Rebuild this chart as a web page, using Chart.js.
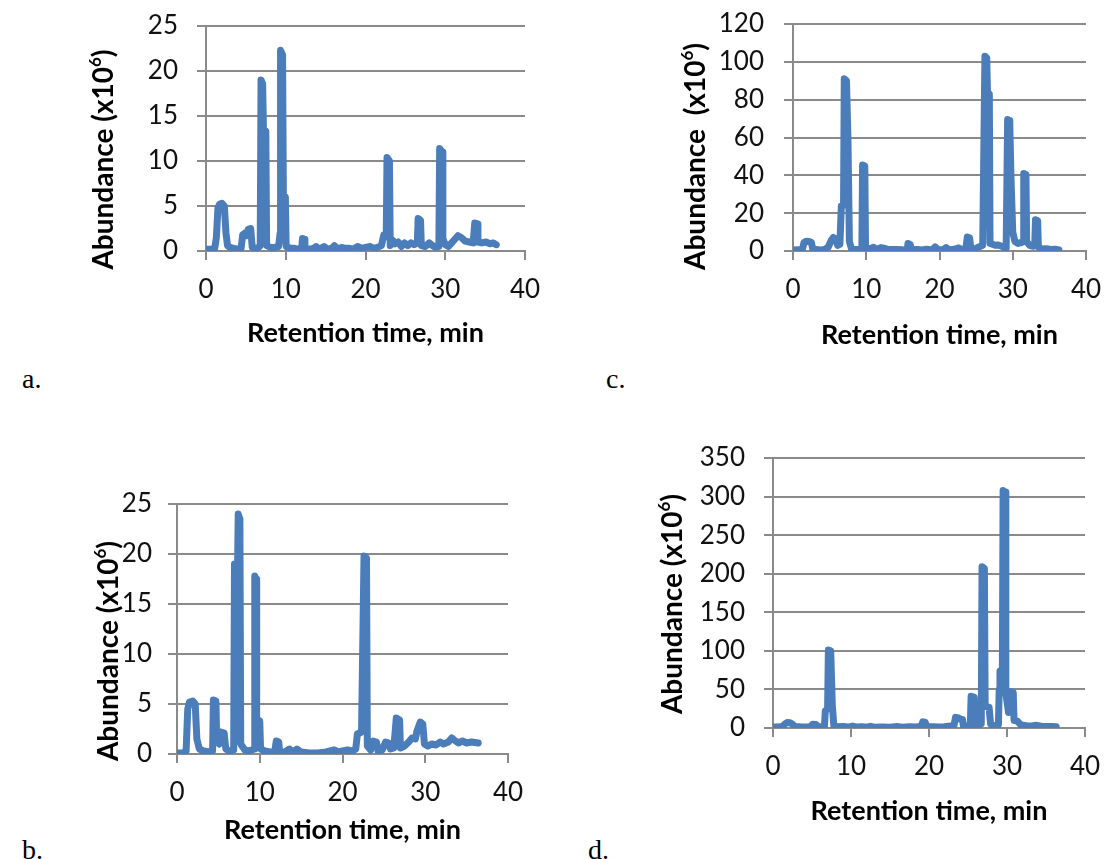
<!DOCTYPE html>
<html>
<head>
<meta charset="utf-8">
<script src="https://cdn.jsdelivr.net/npm/chart.js@4.4.0/dist/chart.umd.min.js"></script>
<style>
  body { margin: 0; background: #fff; width: 1106px; height: 859px; position: relative; overflow: hidden; }
  canvas { position: absolute; }
  .tag { position: absolute; font-family: "Liberation Serif", "DejaVu Serif", serif; font-size: 28px; line-height: 1; color: #000; }
</style>
</head>
<body>
<canvas id="chart-a" width="470" height="360" style="left:80px;top:0"></canvas>
<canvas id="chart-c" width="446" height="360" style="left:660px;top:0"></canvas>
<canvas id="chart-b" width="460" height="389" style="left:80px;top:470px"></canvas>
<canvas id="chart-d" width="466" height="419" style="left:640px;top:440px"></canvas>
<div class="tag" style="left:22px;top:365px">a.</div>
<div class="tag" style="left:606px;top:365px">c.</div>
<div class="tag" style="left:22px;top:836px">b.</div>
<div class="tag" style="left:588px;top:836px">d.</div>
<script>
// retention time (min) and abundance (x10^6)
const aTime = [
  0.0, 0.6, 1.1, 1.3, 1.5, 1.7, 2.0, 2.3, 2.5, 2.7, 3.0, 3.5, 4.0, 4.4, 4.6, 4.9, 5.1, 5.3, 5.6, 5.8,
  6.2, 6.6, 6.8, 6.9, 7.1, 7.2, 7.5, 7.6, 8.1, 8.6, 9.1, 9.3, 9.35, 9.6, 9.7, 9.95, 10.05, 10.6, 11.0, 11.6,
  12.0, 12.1, 12.3, 12.4, 13.0, 13.5, 13.8, 14.2, 14.8, 15.2, 15.8, 16.1, 16.5, 17.0, 17.5, 18.0, 18.5, 19.0, 19.5, 20.0,
  20.6, 21.0, 21.5, 22.0, 22.3, 22.6, 22.7, 23.0, 23.1, 23.4, 23.7, 24.1, 24.5, 24.9, 25.3, 25.7, 26.1, 26.5, 26.6, 26.9,
  27.0, 27.5, 28.0, 28.4, 28.8, 29.2, 29.3, 29.6, 29.7, 30.0, 30.4, 30.8, 31.2, 31.6, 32.0, 32.5, 33.0, 33.5, 33.7, 34.0,
  34.1, 34.6, 35.1, 35.6, 36.0, 36.4
];
const aAbund = [
  0.2, 0.2, 0.3, 1.5, 4.8, 5.2, 5.3, 5.0, 2.0, 0.6, 0.4, 0.3, 0.2, 0.3, 1.8, 2.0, 1.7, 2.4, 2.5, 0.4,
  0.3, 0.4, 0.6, 19.0, 18.6, 13.6, 13.3, 0.6, 0.4, 0.4, 0.5, 2.0, 22.3, 21.8, 6.3, 6.0, 0.5, 0.3, 0.3, 0.2,
  0.3, 1.4, 1.3, 0.3, 0.2, 0.3, 0.5, 0.2, 0.5, 0.2, 0.3, 0.6, 0.2, 0.4, 0.3, 0.3, 0.2, 0.5, 0.3, 0.4,
  0.5, 0.3, 0.4, 0.6, 1.8, 1.6, 10.4, 10.0, 0.6, 1.2, 0.8, 1.0, 0.5, 0.9, 0.6, 0.9, 0.7, 0.9, 3.6, 3.4,
  0.6, 0.5, 0.9, 0.6, 0.4, 0.5, 11.4, 11.0, 1.4, 0.7, 0.5, 0.9, 1.3, 1.7, 1.5, 1.1, 1.0, 0.9, 3.1, 3.0,
  1.0, 0.9, 1.0, 0.8, 0.9, 0.7
];

const cTime = [
  0.0, 0.8, 1.3, 1.5, 1.8, 2.2, 2.5, 2.7, 3.2, 3.8, 4.3, 4.8, 5.2, 5.5, 5.8, 6.1, 6.4, 6.6, 6.9, 7.0,
  7.3, 7.5, 7.7, 8.0, 8.5, 9.0, 9.4, 9.5, 9.8, 9.9, 10.4, 11.0, 11.4, 12.0, 12.4, 13.0, 14.0, 15.0, 15.6, 15.7,
  16.0, 16.2, 17.0, 17.6, 18.2, 19.0, 19.4, 19.8, 20.5, 20.9, 21.3, 22.0, 22.6, 23.0, 23.6, 23.8, 24.1, 24.3, 24.8, 25.3,
  25.9, 26.2, 26.45, 26.55, 26.8, 26.9, 27.3, 27.6, 28.0, 28.5, 29.1, 29.3, 29.5, 29.6, 29.75, 30.0, 30.3, 30.7, 31.2, 31.4,
  31.5, 31.8, 31.9, 32.3, 32.8, 33.0, 33.1, 33.4, 33.5, 34.0, 34.6, 35.2, 35.8, 36.3
];
const cAbund = [
  0.5, 0.6, 1.0, 4.5, 5.2, 5.0, 4.6, 1.0, 0.8, 0.6, 0.8, 2.0, 5.5, 7.2, 6.5, 3.0, 3.5, 23.8, 24.0, 91.0,
  90.0, 60.0, 5.0, 1.0, 0.8, 0.8, 1.0, 45.5, 45.0, 2.0, 1.0, 2.0, 0.8, 1.8, 1.5, 0.8, 0.8, 0.6, 0.8, 4.0,
  3.5, 0.6, 0.8, 0.6, 0.9, 0.6, 2.2, 0.8, 0.6, 1.8, 0.6, 0.9, 1.6, 0.8, 1.2, 7.4, 7.0, 1.0, 1.0, 2.0,
  3.0, 103.0, 102.0, 84.0, 83.0, 4.0, 3.5, 3.0, 3.2, 2.5, 1.5, 69.5, 69.0, 66.0, 40.0, 10.0, 5.0, 4.0, 4.5, 5.0,
  41.0, 40.5, 5.0, 3.0, 2.5, 3.0, 16.5, 16.0, 2.0, 1.0, 1.2, 0.8, 0.9, 0.6
];

const bTime = [
  0.0, 0.7, 1.1, 1.3, 1.5, 1.9, 2.2, 2.4, 2.7, 3.2, 3.8, 4.3, 4.4, 4.7, 4.8, 5.1, 5.3, 5.7, 5.9, 6.3,
  6.85, 6.95, 7.15, 7.25, 7.4, 7.6, 7.7, 8.2, 8.7, 9.35, 9.4, 9.55, 9.6, 9.65, 10.0, 10.1, 10.6, 11.2, 11.8, 12.0,
  12.3, 12.4, 13.0, 13.6, 14.0, 14.5, 15.0, 16.0, 17.0, 18.0, 19.0, 19.5, 20.0, 20.6, 21.2, 21.6, 21.8, 22.3, 22.6, 22.9,
  23.0, 23.4, 23.7, 24.1, 24.3, 24.8, 25.2, 25.6, 25.8, 26.2, 26.5, 26.9, 27.0, 27.5, 28.0, 28.4, 28.8, 29.0, 29.4, 29.7,
  29.9, 30.3, 30.8, 31.3, 31.8, 32.2, 32.8, 33.2, 33.5, 34.0, 34.5, 35.0, 35.6, 36.4
];
const bAbund = [
  0.1, 0.1, 0.3, 4.5, 5.2, 5.3, 5.0, 1.5, 0.5, 0.3, 0.2, 0.3, 5.4, 5.3, 1.5, 1.0, 2.2, 2.1, 0.5, 0.3,
  0.4, 19.0, 18.8, 14.0, 24.0, 23.5, 1.0, 0.4, 0.3, 0.5, 17.8, 17.5, 10.0, 3.5, 3.3, 0.5, 0.3, 0.2, 0.2, 1.3,
  1.2, 0.2, 0.2, 0.5, 0.2, 0.5, 0.2, 0.1, 0.1, 0.2, 0.4, 0.2, 0.3, 0.4, 0.3, 0.5, 2.0, 2.2, 19.8, 19.6,
  0.8, 0.4, 1.3, 1.2, 0.3, 0.4, 1.2, 1.1, 0.5, 0.6, 3.6, 3.4, 0.6, 0.8, 1.2, 1.6, 1.5, 2.3, 3.2, 3.0,
  1.0, 0.8, 1.0, 0.9, 1.2, 1.0, 1.2, 1.6, 1.4, 1.1, 1.3, 1.1, 1.2, 1.1
];

const dTime = [
  0.0, 0.8, 1.2, 1.5, 1.8, 2.2, 2.5, 2.8, 3.5, 4.2, 4.8, 5.1, 5.5, 5.8, 6.3, 6.6, 6.7, 7.0, 7.1, 7.4,
  7.6, 7.8, 8.3, 9.0, 9.6, 10.2, 10.8, 11.4, 12.0, 12.5, 13.0, 14.0, 15.0, 16.0, 16.6, 17.5, 18.3, 19.0, 19.2, 19.5,
  19.7, 20.5, 21.2, 22.0, 22.8, 23.2, 23.4, 23.8, 24.0, 24.3, 24.4, 25.0, 25.3, 25.4, 25.8, 25.9, 26.3, 26.7, 26.8, 27.1,
  27.2, 27.7, 27.9, 28.4, 28.9, 29.0, 29.1, 29.4, 29.5, 29.75, 29.85, 30.2, 30.4, 30.8, 30.9, 31.3, 31.8, 32.5, 33.2, 33.8,
  34.5, 35.2, 35.8, 36.3
];
const dAbund = [
  1.0, 1.5, 2.0, 5.0, 7.0, 6.8, 5.0, 2.0, 1.5, 1.2, 1.8, 5.0, 4.5, 1.5, 1.5, 2.5, 22.0, 25.0, 101.0, 100.0,
  30.0, 3.0, 1.5, 2.0, 1.2, 2.5, 1.2, 1.8, 1.0, 2.2, 1.0, 1.2, 1.0, 1.8, 1.0, 1.5, 1.2, 2.0, 8.0, 7.5,
  2.0, 1.5, 1.2, 1.6, 2.5, 3.0, 13.8, 13.0, 11.5, 11.0, 3.0, 2.5, 4.0, 41.0, 40.0, 3.0, 4.0, 5.0, 209.0, 207.0,
  28.0, 27.0, 5.0, 3.0, 4.0, 50.0, 74.0, 60.0, 308.0, 306.0, 45.0, 20.0, 47.0, 46.0, 10.0, 9.0, 4.0, 3.0, 2.5, 3.5,
  2.0, 1.8, 2.0, 1.5
];

const xTicks = [0, 10, 20, 30, 40];
const yLimits = { a: [25, 5], b: [25, 5], c: [120, 20], d: [350, 50] };

const BLUE = '#4a7dba';
const GRID = '#8a8a8a';
const FONT = 'Lato, "Open Sans", sans-serif';

// rotated y-axis title, drawn so that the superscript 6 can be set small and raised
const yTitlePlugin = {
  id: 'yTitle',
  afterDraw(chart, args, o) {
    const { ctx, chartArea } = chart;
    ctx.save();
    ctx.fillStyle = '#000';
    ctx.textBaseline = 'alphabetic';
    ctx.textAlign = 'left';
    const big = `bold 28px ${FONT}`;
    const small = `bold 17px ${FONT}`;
    ctx.font = big;
    const w1 = ctx.measureText(o.text).width;
    const w3 = ctx.measureText(')').width;
    ctx.font = small;
    const w2 = ctx.measureText('6').width;
    const total = w1 + w2 + w3;
    ctx.translate(o.x, (chartArea.top + chartArea.bottom) / 2 + o.shift);
    ctx.rotate(-Math.PI / 2);
    let x = -total / 2;
    ctx.font = big;
    ctx.fillText(o.text, x, 10);
    x += w1;
    ctx.font = small;
    ctx.fillText('6', x, -2);
    x += w2;
    ctx.font = big;
    ctx.fillText(')', x, 10);
    ctx.restore();
  }
};

function makeChart(id, time, abund, key, lay) {
  const [yMax, yStep] = yLimits[key];
  return new Chart(document.getElementById(id), {
    type: 'line',
    data: {
      datasets: [{
        data: time.map((t, i) => ({ x: t, y: abund[i] })),
        borderColor: BLUE,
        borderWidth: 7,
        pointRadius: 0,
        tension: 0,
        borderJoinStyle: 'round',
        borderCapStyle: 'round',
      }],
    },
    options: {
      responsive: false,
      animation: false,
      layout: { padding: { top: lay.padTop, right: lay.padRight, left: 0, bottom: 0 } },
      plugins: {
        legend: { display: false },
        tooltip: { enabled: false },
        yTitle: { text: lay.yText, x: lay.titleX, shift: lay.shift },
      },
      scales: {
        x: {
          type: 'linear',
          min: 0,
          max: 40,
          afterBuildTicks: (s) => { s.ticks = xTicks.map((v) => ({ value: v })); },
          ticks: { color: '#111', font: { family: FONT, size: 26 }, padding: 14, maxRotation: 0 },
          grid: { drawOnChartArea: false, color: GRID, lineWidth: 2, tickLength: 9 },
          border: { color: GRID, width: 2 },
          title: {
            display: true,
            text: 'Retention time, min',
            color: '#000',
            font: { family: FONT, size: 27, weight: 'bold' },
            padding: { top: 0, bottom: lay.xTitlePad },
          },
          afterFit: (s) => { s.height = lay.xH; s.paddingLeft = 0; s.paddingRight = 0; },
        },
        y: {
          min: 0,
          max: yMax,
          ticks: { stepSize: yStep, color: '#111', font: { family: FONT, size: 26 }, padding: lay.yPad },
          grid: { color: GRID, lineWidth: 2, tickLength: 9 },
          border: { color: GRID, width: 2 },
          afterFit: (s) => { s.width = lay.yW; s.paddingTop = 0; s.paddingBottom = 0; },
        },
      },
    },
    plugins: [yTitlePlugin],
  });
}

makeChart('chart-a', aTime, aAbund, 'a', {
  padTop: 26, padRight: 25, xH: 109, yW: 126, yPad: 19, xTitlePad: 11,
  yText: 'Abundance (x10', titleX: 23, shift: 21,
});
makeChart('chart-c', cTime, cAbund, 'c', {
  padTop: 24, padRight: 20, xH: 109, yW: 133, yPad: 20, xTitlePad: 9,
  yText: 'Abundance  (x10', titleX: 35, shift: 19,
});
makeChart('chart-b', bTime, bAbund, 'b', {
  padTop: 34, padRight: 32, xH: 105, yW: 97, yPad: 16, xTitlePad: 13,
  yText: 'Abundance (x10', titleX: 28, shift: 22,
});
makeChart('chart-d', dTime, dAbund, 'd', {
  padTop: 18, padRight: 21, xH: 131, yW: 133, yPad: 19, xTitlePad: 32,
  yText: 'Abundance (x10', titleX: 32, shift: 11,
});
</script>
</body>
</html>
